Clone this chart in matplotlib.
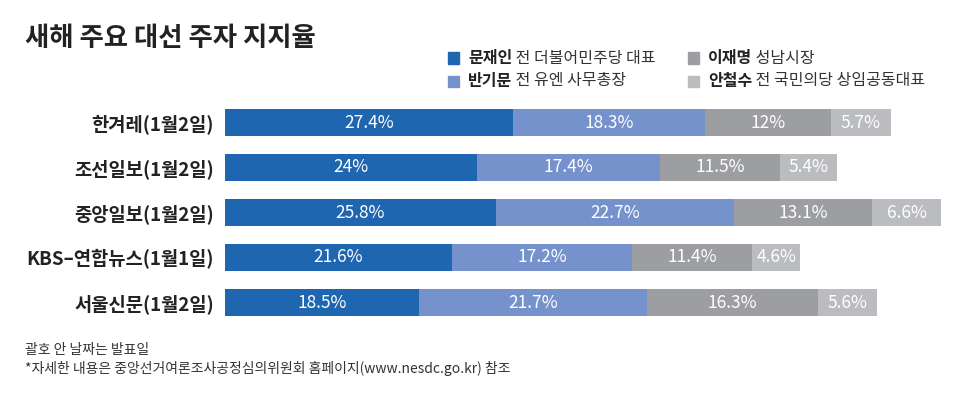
import matplotlib.pyplot as plt
import numpy as np

plt.rcParams['font.family'] = ['Noto Sans CJK KR', 'DejaVu Sans']

sources = ['한겨레(1월2일)', '조선일보(1월2일)', '중앙일보(1월2일)', 'KBS–연합뉴스(1월1일)', '서울신문(1월2일)']
moon = [27.4, 24, 25.8, 21.6, 18.5]
ban = [18.3, 17.4, 22.7, 17.2, 21.7]
lee = [12, 11.5, 13.1, 11.4, 16.3]
ahn = [5.7, 5.4, 6.6, 4.6, 5.6]

names = ['문재인', '반기문', '이재명', '안철수']
titles = ['전 더불어민주당 대표', '전 유엔 사무총장', '성남시장', '전 국민의당 상임공동대표']
colors = ['#1f66b1', '#7592cc', '#9c9ea1', '#babcbf']

fig = plt.figure(figsize=(9.7, 3.96), dpi=100)
W, H = 970, 396
ax = fig.add_axes([225 / W, 1 - 325 / H, 735 / W, 225 / H])

y = np.arange(len(sources))
left = np.zeros(len(sources))
for vals, c in zip([moon, ban, lee, ahn], colors):
    vals = np.array(vals)
    ax.barh(y, vals, left=left, height=0.6, color=c)
    for yi, l, v in zip(y, left, vals):
        ax.text(l + v / 2, yi, f'{v:g}%', color='white', ha='center', va='center',
                fontsize=12.5, fontweight='light')
    left += vals

ax.set_xlim(0, 70)
ax.set_ylim(len(sources) - 0.5, -0.5)
ax.set_yticks(y)
ax.set_yticklabels(sources, fontsize=13.5, fontweight='bold', color='#222222')
ax.tick_params(axis='y', length=0, pad=8)
ax.set_xticks([])
for s in ax.spines.values():
    s.set_visible(False)

fig.text(25 / W, 1 - 46 / H, '새해 주요 대선 주자 지지율', fontsize=19, fontweight='bold',
         color='#222222', va='baseline')

# legend: bold name, then plain title right after it
pos = [(448, 58), (448, 81), (688, 58), (688, 81)]
for (px, py), n, t, c in zip(pos, names, titles, colors):
    fig.patches.append(plt.Rectangle((px / W, 1 - (py + 5.5) / H), 11 / W, 11 / H,
                                     transform=fig.transFigure, color=c))
    nt = fig.text((px + 20) / W, 1 - py / H, n, fontsize=11.5, fontweight='bold',
                  color='#222222', va='center')
    ax.annotate(' ' + t, xy=(1, 0.5), xycoords=nt, va='center', ha='left',
                fontsize=11.5, color='#333333')

fig.text(25 / W, 1 - 350 / H, '괄호 안 날짜는 발표일', fontsize=10, color='#333333', va='center')
fig.text(25 / W, 1 - 368 / H, '*자세한 내용은 중앙선거여론조사공정심의위원회 홈페이지(www.nesdc.go.kr) 참조',
         fontsize=10, color='#333333', va='center')

fig.savefig('out.png', dpi=100)
